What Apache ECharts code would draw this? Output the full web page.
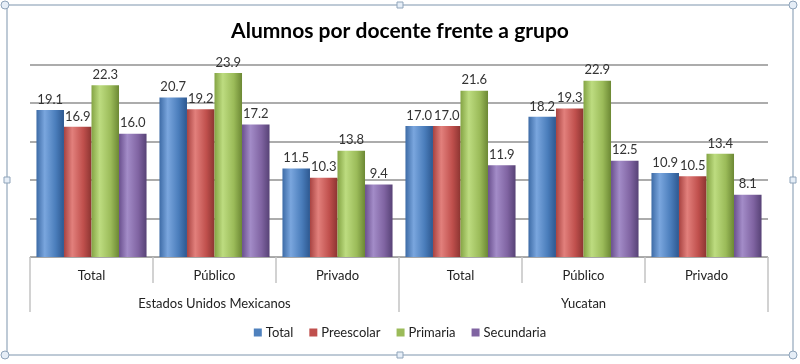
<!DOCTYPE html>
<html>
<head>
<meta charset="utf-8">
<script src="https://cdn.jsdelivr.net/npm/echarts@6/dist/echarts.min.js"></script>
<style>
html,body{margin:0;padding:0;background:#fff;}
#c{width:800px;height:364px;}
</style>
</head>
<body>
<div id="c"></div>
<script>
var titleText = "Alumnos por docente frente a grupo";
var subCategories = ["Total", "Público", "Privado", "Total", "Público", "Privado"];
var groupCategories = ["Estados Unidos Mexicanos", "Yucatan"];
var seriesNames = ["Total", "Preescolar", "Primaria", "Secundaria"];
var totalValues = [19.1, 20.7, 11.5, 17.0, 18.2, 10.9];
var preescolarValues = [16.9, 19.2, 10.3, 17.0, 19.3, 10.5];
var primariaValues = [22.3, 23.9, 13.8, 21.6, 22.9, 13.4];
var secundariaValues = [16.0, 17.2, 9.4, 11.9, 12.5, 8.1];

var allValues = [totalValues, preescolarValues, primariaValues, secundariaValues];
var baseColors = ["#4F81BD", "#C0504D", "#9BBB59", "#8064A2"];
var gradStops = [
  ["#3d6ba6", "#7aa6de", "#4a7dbb", "#2d5890"],
  ["#a84341", "#e2807c", "#c0504d", "#8c3431"],
  ["#84a444", "#bddc80", "#9bbb59", "#6c8834"],
  ["#6a508e", "#a38cc8", "#8064a2", "#574276"]
];
function grad(i) {
  var s = gradStops[i];
  return new echarts.graphic.LinearGradient(0, 0, 1, 0, [
    {offset: 0, color: s[0]},
    {offset: 0.3, color: s[1]},
    {offset: 0.7, color: s[2]},
    {offset: 1, color: s[3]}
  ]);
}

var font = "Lato";
var chart = echarts.init(document.getElementById("c"), null, {renderer: "canvas"});

var series = seriesNames.map(function (n, i) {
  return {
    name: n,
    type: "bar",
    xAxisIndex: 0,
    data: allValues[i],
    barGap: "0%",
    barCategoryGap: "10.5%",
    itemStyle: {color: grad(i)},
    label: {
      show: true,
      position: "top",
      distance: 4,
      color: "#333",
      fontFamily: font,
      fontSize: 13,
      formatter: function (p) { return p.value.toFixed(1); }
    }
  };
});

var frameColor = "#a9b9c9";
var handleFill = "#e6eef7";
var handleStroke = "#8fa4ba";
function circ(x, y) {
  return {type: "circle", shape: {cx: x, cy: y, r: 4}, style: {fill: handleFill, stroke: handleStroke, lineWidth: 1}, z: 10};
}
function sq(x, y) {
  return {type: "rect", shape: {x: x - 3, y: y - 3, width: 6, height: 6}, style: {fill: handleFill, stroke: handleStroke, lineWidth: 1}, z: 10};
}

chart.setOption({
  animation: false,
  backgroundColor: "#ffffff",
  title: {
    text: titleText,
    left: "center",
    top: 16,
    textStyle: {fontFamily: font, fontSize: 21, fontWeight: "bold", color: "#000"}
  },
  legend: {
    data: seriesNames.map(function (n, i) { return {name: n, itemStyle: {color: baseColors[i]}}; }),
    bottom: 20,
    left: "center",
    itemWidth: 8,
    itemHeight: 8,
    itemGap: 16,
    icon: "rect",
    textStyle: {fontFamily: font, fontSize: 13, color: "#222", padding: [0, 0, 0, -1]}
  },
  grid: {left: 30, right: 32, top: 64.5, bottom: 107, containLabel: false},
  xAxis: [
    {
      type: "category",
      data: subCategories,
      position: "bottom",
      axisLine: {show: true, lineStyle: {color: "#a6a6a6", width: 1}},
      axisTick: {show: true, interval: 0, length: 26, lineStyle: {color: "#c4c4c4", width: 1.5}},
      axisLabel: {interval: 0, margin: 12, fontFamily: font, fontSize: 13, color: "#222"},
      splitLine: {show: false}
    },
    {
      type: "category",
      data: groupCategories,
      position: "bottom",
      axisLine: {show: false},
      axisTick: {show: true, interval: 0, length: 55, lineStyle: {color: "#c4c4c4", width: 1.5}},
      axisLabel: {interval: 0, margin: 40, fontFamily: font, fontSize: 13, color: "#222"},
      splitLine: {show: false}
    }
  ],
  yAxis: {
    type: "value",
    min: 0,
    max: 25,
    interval: 5,
    axisLine: {show: false},
    axisTick: {show: false},
    axisLabel: {show: false},
    splitLine: {show: true, lineStyle: {color: "#acacac", width: 2}}
  },
  series: series,
  graphic: [
    {type: "rect", shape: {x: 7, y: 5, width: 786, height: 350}, style: {fill: "none", stroke: frameColor, lineWidth: 1.5}, z: 9},
    circ(5, 5), circ(793, 5), circ(5, 355), circ(793, 355),
    sq(400, 5), sq(400, 355), sq(7, 180), sq(793, 180)
  ]
});
</script>
</body>
</html>
